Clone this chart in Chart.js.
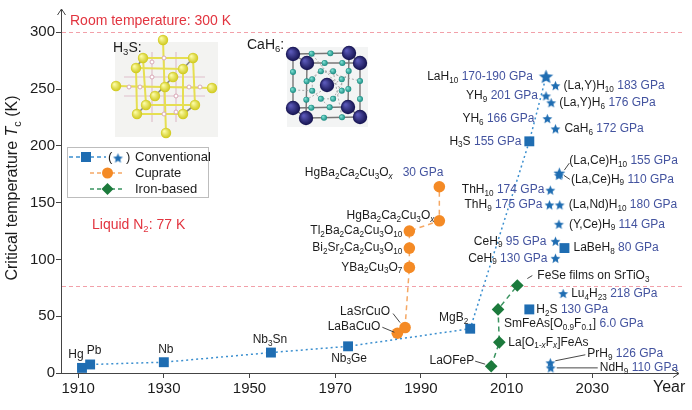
<!DOCTYPE html>
<html>
<head>
<meta charset="utf-8">
<script src="https://cdn.jsdelivr.net/npm/chart.js@4.4.1/dist/chart.umd.min.js"></script>
<style>
  html, body { margin: 0; padding: 0; background: #fff; }
</style>
</head>
<body>
<canvas id="c" width="692" height="410"></canvas>
<script>
// ---- data ----
const xTicks = [1910, 1930, 1950, 1970, 1990, 2010, 2030];
const yTicks = [0, 50, 100, 150, 200, 250, 300];
const refTemps = [300, 77];
const refTexts = ['Room temperature: 300 K', 'Liquid N_{2}: 77 K'];

// conventional (dotted line, squares, LaH10 as star)
const convNames = ['Hg', 'Pb', 'Nb', 'Nb_{3}Sn', 'Nb_{3}Ge', 'MgB_{2}', 'H_{3}S', 'LaH_{10}'];
const convPress = ['', '', '', '', '', '', '155 GPa', '170-190 GPa'];
const convYears = [1910.9, 1912.8, 1930, 1955, 1973, 2001.5, 2015.3, 2019.2];
const convTc    = [4.5, 7.5, 9.5, 18, 23.5, 39, 204, 261];

// hydrides under pressure (stars)
const hydNames = ['(La,Y)H_{10}', 'YH_{9}', '(La,Y)H_{6}', 'YH_{6}', 'CaH_{6}', '(La,Ce)H_{10}', '(La,Ce)H_{9}',
                  'ThH_{10}', 'ThH_{9}', '(La,Nd)H_{10}', '(Y,Ce)H_{9}', 'CeH_{9}', 'CeH_{9}', 'Lu_{4}H_{23}', 'PrH_{9}', 'NdH_{9}'];
const hydPress = ['183 GPa', '201 GPa', '176 GPa', '166 GPa', '172 GPa', '155 GPa', '110 GPa',
                  '174 GPa', '175 GPa', '180 GPa', '114 GPa', '95 GPa', '130 GPa', '218 GPa', '126 GPa', '110 GPa'];
const hydYears = [2021.4, 2019.2, 2020.4, 2019.5, 2021.4, 2022.3, 2022.2,
                  2020.2, 2020, 2022.4, 2022.2, 2021.4, 2021.4, 2023.2, 2020.2, 2020.3];
const hydTc    = [253, 244, 238, 224, 215, 176, 174, 161, 148, 148, 131, 116, 101, 70, 9, 4.5];

// other conventional squares
const sqNames = ['H_{2}S', 'LaBeH_{8}'];
const sqPress = ['130 GPa', '80 GPa'];
const sqYears = [2015.3, 2023.5];
const sqTc    = [56, 110];

// cuprates
const cupNames = ['LaBaCuO', 'LaSrCuO', 'YBa_{2}Cu_{3}O_{7}', 'Bi_{2}Sr_{2}Ca_{2}Cu_{3}O_{10}', 'Tl_{2}Ba_{2}Ca_{2}Cu_{3}O_{10}',
                  'HgBa_{2}Ca_{2}Cu_{3}O_{*x*}', 'HgBa_{2}Ca_{2}Cu_{3}O_{*x*}'];
const cupPress = ['', '', '', '', '', '', '30 GPa'];
const cupYears = [1984.5, 1986.3, 1987.3, 1987.3, 1987.3, 1994.3, 1994.3];
const cupTc    = [35, 40, 93, 110, 125, 134, 164];

// iron-based
const feNames = ['LaOFeP', 'La[O_{1-*x*}F_{*x*}]FeAs', 'SmFeAs[O_{0.9}F_{0.1}]', 'FeSe films on SrTiO_{3}'];
const fePress = ['', '', '6.0 GPa', ''];
const feYears = [2006.4, 2008.3, 2008, 2012.5];
const feTc    = [6, 27, 56, 77];

// ---- label layout: [dx, dy, align, leader(x1,y1,x2,y2), gap] relative to point ----
const convLbl = [[-6,-13,'center'],[4,-14,'center'],[2,-13,'center'],[-1,-13,'center'],[1,12,'center'],
                 [-2,-11,'right'],[-8,0,'right'],[-13,0,'right']];
const hydLbl = [[8,0,'left'],[-8,0,'right'],[8,0,'left'],[-13,0,'right'],[9,0,'left'],
                [10,-12,'left',[5,-3,10,-10]],[12,4,'left',[5,0,11,4]],
                [-6,0,'right'],[-7,0,'right'],[9,0,'left'],[10,0,'left'],[-9,0,'right'],[-8,0,'right'],
                [8,0,'left'],[37,-9,'left',[5,-2,35,-8]],[49,0,'left',[6,0,47,0]]];
const sqLbl = [[7,0,'left'],[9,0,'left']];
const cupLbl = [[-17,-7,'right',[-15,-6,-3,-1]],[-15,-16,'right',[-12,-14,-5,-5]],
                [-7,0,'right'],[-7,0,'right'],[-7,0,'right'],[-5,-5,'right'],[4,-14,'right',null,'   ']];
const feLbl = [[-17,-5,'right',[-16,-5,-6,-2]],[9,0,'left'],[6,14,'left'],[20,-10,'left',[10,-7,15,-10]]];

// ---- style ----
const FONT = '"Liberation Sans", Arial, Helvetica, sans-serif';
const BLUE = '#1f6db2';
const BLUE_LINE = '#3b8fcf';
const ORANGE = '#f48a25';
const GREEN = '#1c7a3c';
const PRESS = '#43539f';
const RED = '#e2343f';
const PINK = '#f2a0a9';
const TXT = '#1c1c1c';

function makeStar(R, color) {
  const s = Math.ceil(R * 2 + 2);
  const c = document.createElement('canvas');
  c.width = s; c.height = s;
  const g = c.getContext('2d');
  g.fillStyle = color;
  g.beginPath();
  for (let k = 0; k < 10; k++) {
    const r = k % 2 ? R * 0.45 : R;
    const a = -Math.PI / 2 + k * Math.PI / 5;
    g.lineTo(s / 2 + r * Math.cos(a), s / 2 + 0.5 + r * Math.sin(a));
  }
  g.closePath(); g.fill();
  return c;
}
const starBig = makeStar(7.5, BLUE);
const starMid = makeStar(6.2, BLUE);
const starSm = makeStar(5.2, BLUE);

// rich text: _{..} subscript, *..* italic, #..# pressure colour
function parseRich(str) {
  const segs = []; let sub = false, ital = false, blue = false, buf = '';
  const push = () => { if (buf) segs.push({ t: buf, sub, ital, blue }); buf = ''; };
  for (let i = 0; i < str.length; i++) {
    const c = str[i];
    if (c === '_' && str[i + 1] === '{') { push(); sub = true; i++; continue; }
    if (c === '}' && sub) { push(); sub = false; continue; }
    if (c === '*') { push(); ital = !ital; continue; }
    if (c === '#') { push(); blue = !blue; continue; }
    buf += c;
  }
  push();
  return segs;
}
function segFont(s, size) {
  return (s.ital ? 'italic ' : '') + (s.sub ? (size * 0.68).toFixed(1) : size) + 'px ' + FONT;
}
function drawRich(ctx, str, x, y, align, size, color) {
  const segs = parseRich(str);
  let w = 0;
  segs.forEach(s => { ctx.font = segFont(s, size); w += ctx.measureText(s.t).width; });
  let cx = align === 'right' ? x - w : align === 'center' ? x - w / 2 : x;
  ctx.textBaseline = 'middle'; ctx.textAlign = 'left';
  segs.forEach(s => {
    ctx.font = segFont(s, size);
    ctx.fillStyle = s.blue ? PRESS : color;
    ctx.fillText(s.t, cx, y + (s.sub ? size * 0.32 : 0));
    cx += ctx.measureText(s.t).width;
  });
}

function pts(xs, ys) { return xs.map((x, i) => ({ x, y: ys[i] })); }

const groups = [
  { ds: 0, names: convNames, press: convPress, lbl: convLbl },
  { ds: 1, names: hydNames, press: hydPress, lbl: hydLbl },
  { ds: 2, names: sqNames, press: sqPress, lbl: sqLbl },
  { ds: 3, names: cupNames, press: cupPress, lbl: cupLbl },
  { ds: 4, names: feNames, press: fePress, lbl: feLbl }
];

function sphere(ctx, x, y, r, c1, c2) {
  const g = ctx.createRadialGradient(x - r * 0.35, y - r * 0.35, r * 0.1, x, y, r);
  g.addColorStop(0, c1); g.addColorStop(1, c2);
  ctx.fillStyle = g;
  ctx.beginPath(); ctx.arc(x, y, r, 0, Math.PI * 2); ctx.fill();
}
function line(ctx, a, b) { ctx.beginPath(); ctx.moveTo(a[0], a[1]); ctx.lineTo(b[0], b[1]); ctx.stroke(); }

function drawH3S(ctx) {
  ctx.fillStyle = '#f3f3f1'; ctx.fillRect(115, 42, 103, 95);
  const S = {
    t: [163, 40], b2: [143, 58], b3: [193, 58], f4: [136, 68], f5: [183, 69], i6: [173, 77],
    l: [116, 86], c: [165, 87], r: [212, 88], i10: [155, 96], b11: [146, 105], b12: [195, 105],
    f13: [137, 114], f14: [183, 114], bt: [166, 133]
  };
  ctx.strokeStyle = '#dfc0cb'; ctx.lineWidth = 1.2;
  [[124, 77, 205, 77], [124, 96, 205, 96], [128, 87, 200, 87]].forEach(a => line(ctx, [a[0], a[1]], [a[2], a[3]]));
  [[152, 52, 152, 122], [176, 52, 176, 122], [164, 58, 164, 114]].forEach(a => line(ctx, [a[0], a[1]], [a[2], a[3]]));
  ctx.strokeStyle = '#e6df52'; ctx.lineWidth = 2;
  line(ctx, S.t, S.bt); line(ctx, S.l, S.r);
  [[S.b2, S.b3], [S.b3, S.b12], [S.b12, S.b11], [S.b11, S.b2], [S.f4, S.f5], [S.f5, S.f14], [S.f14, S.f13], [S.f13, S.f4]]
    .forEach(p => line(ctx, p[0], p[1]));
  ctx.strokeStyle = '#8a8a80'; ctx.lineWidth = 1.6;
  [[S.b2, S.f4], [S.b3, S.f5], [S.b11, S.f13], [S.b12, S.f14], [S.i6, S.i10]].forEach(p => line(ctx, p[0], p[1]));
  ctx.strokeStyle = '#d9a9b8'; ctx.lineWidth = 1; ctx.fillStyle = '#fff';
  [[152, 77], [176, 77], [152, 96], [176, 96], [129, 87], [200, 87], [164, 58], [164, 114], [140, 87], [189, 87], [152, 62], [176, 112]]
    .forEach(p => { ctx.beginPath(); ctx.arc(p[0], p[1], 2, 0, Math.PI * 2); ctx.fill(); ctx.stroke(); });
  Object.values(S).forEach(p => sphere(ctx, p[0], p[1], 5.2, '#fbfba4', '#cfc81a'));
  drawRich(ctx, 'H_{3}S:', 113, 48, 'left', 14, TXT);
}

function drawCaH6(ctx) {
  ctx.fillStyle = '#f3f4f4'; ctx.fillRect(287, 47, 81, 80);
  const F = [[293, 54], [349, 53], [348, 107], [293, 108]];
  const B = [[307, 63], [360, 63], [360, 117], [306, 118]];
  const C = [327, 85];
  ctx.strokeStyle = '#777'; ctx.lineWidth = 1.4;
  for (let k = 0; k < 4; k++) { line(ctx, F[k], F[(k + 1) % 4]); line(ctx, B[k], B[(k + 1) % 4]); line(ctx, F[k], B[k]); }
  const teal = [];
  for (let k = 0; k < 8; k++) {
    const a = k * Math.PI / 4 + Math.PI / 8;
    teal.push([C[0] + 16 * Math.cos(a), C[1] + 15 * Math.sin(a)]);
  }
  [F, B].forEach(Q => {
    for (let k = 0; k < 4; k++) {
      const p = Q[k], q = Q[(k + 1) % 4];
      teal.push([p[0] + (q[0] - p[0]) / 3, p[1] + (q[1] - p[1]) / 3]);
      teal.push([p[0] + 2 * (q[0] - p[0]) / 3, p[1] + 2 * (q[1] - p[1]) / 3]);
    }
  });
  ctx.strokeStyle = '#999'; ctx.lineWidth = 0.8; ctx.setLineDash([2, 2]);
  teal.slice(0, 8).forEach((p, k) => line(ctx, p, teal[(k + 1) % 8]));
  teal.slice(0, 8).forEach((p, k) => line(ctx, p, teal[8 + (k * 2) % 16]));
  ctx.setLineDash([]);
  teal.forEach(p => sphere(ctx, p[0], p[1], 3, '#7fe0d4', '#168a80'));
  F.concat(B, [C]).forEach(p => sphere(ctx, p[0], p[1], 7.2, '#5a58b8', '#14124e'));
  drawRich(ctx, 'CaH_{6}:', 247, 45, 'left', 14, TXT);
}

const decorPlugin = {
  id: 'decor',
  beforeDatasetsDraw(chart) {
    const ctx = chart.ctx, x = chart.scales.x, y = chart.scales.y;
    ctx.save();
    ctx.strokeStyle = PINK; ctx.lineWidth = 1; ctx.setLineDash([4, 3]);
    refTemps.forEach(t => {
      const py = Math.round(y.getPixelForValue(t)) + 0.5;
      ctx.beginPath(); ctx.moveTo(x.left + 1, py); ctx.lineTo(x.right + 6, py); ctx.stroke();
    });
    ctx.setLineDash([]);
    drawRich(ctx, refTexts[0], 70, 21, 'left', 14, RED);
    drawRich(ctx, refTexts[1], 92, 225, 'left', 14, RED);
    drawH3S(ctx);
    drawCaH6(ctx);
    ctx.restore();
  },
  afterDatasetsDraw(chart) {
    const ctx = chart.ctx;
    ctx.save();
    groups.forEach(g => {
      const meta = chart.getDatasetMeta(g.ds);
      g.names.forEach((n, i) => {
        const el = meta.data[i], L = g.lbl[i];
        let txt = n;
        if (g.press[i]) txt += (L[4] || ' ') + '#' + g.press[i] + '#';
        drawRich(ctx, txt, el.x + L[0], el.y + L[1], L[2], 12, TXT);
        if (L[3]) {
          ctx.strokeStyle = '#333'; ctx.lineWidth = 0.9;
          line(ctx, [el.x + L[3][0], el.y + L[3][1]], [el.x + L[3][2], el.y + L[3][3]]);
        }
      });
    });
    ctx.restore();
  },
  afterDraw(chart) {
    const ctx = chart.ctx, a = chart.chartArea;
    ctx.save();
    // axis arrows
    ctx.strokeStyle = '#444'; ctx.lineWidth = 1;
    ctx.beginPath(); ctx.moveTo(a.left + 0.5, a.top); ctx.lineTo(a.left + 0.5, a.top - 4); ctx.stroke();
    ctx.beginPath(); ctx.moveTo(a.left - 3.5, a.top + 2); ctx.lineTo(a.left + 0.5, a.top - 4); ctx.lineTo(a.left + 4.5, a.top + 2); ctx.stroke();
    const by = a.bottom + 0.5;
    ctx.beginPath(); ctx.moveTo(a.right, by); ctx.lineTo(a.right + 1, by); ctx.stroke();
    ctx.beginPath(); ctx.moveTo(a.right - 5, by - 4); ctx.lineTo(a.right + 1, by); ctx.lineTo(a.right - 5, by + 4); ctx.stroke();
    drawRich(ctx, 'Year', 653, 388, 'left', 16, TXT);
    // y title
    ctx.save();
    ctx.translate(13, 188); ctx.rotate(-Math.PI / 2);
    drawRich(ctx, 'Critical temperature *T*_{c} (K)', 0, 0, 'center', 16, TXT);
    ctx.restore();
    // legend
    ctx.strokeStyle = '#bdbdbd'; ctx.lineWidth = 1;
    ctx.strokeRect(67.5, 147.5, 141, 50);
    ctx.lineWidth = 1.4; ctx.setLineDash([4, 3]);
    ctx.strokeStyle = BLUE_LINE; line(ctx, [69, 157], [106, 157]);
    ctx.strokeStyle = '#f5a865'; line(ctx, [90, 173], [125, 173]);
    ctx.strokeStyle = '#3a9460'; line(ctx, [90, 189], [125, 189]);
    ctx.setLineDash([]);
    ctx.fillStyle = BLUE; ctx.fillRect(81, 152, 10, 10);
    ctx.drawImage(starSm, 118 - starSm.width / 2, 158 - starSm.height / 2);
    drawRich(ctx, '(', 108, 157, 'left', 13, TXT);
    drawRich(ctx, ')', 126, 157, 'left', 13, TXT);
    ctx.fillStyle = ORANGE; ctx.beginPath(); ctx.arc(107.5, 173, 5.5, 0, Math.PI * 2); ctx.fill();
    ctx.fillStyle = GREEN; ctx.beginPath();
    ctx.moveTo(107.5, 183); ctx.lineTo(113.5, 189); ctx.lineTo(107.5, 195); ctx.lineTo(101.5, 189); ctx.closePath(); ctx.fill();
    drawRich(ctx, 'Conventional', 135, 157, 'left', 13, TXT);
    drawRich(ctx, 'Cuprate', 135, 173, 'left', 13, TXT);
    drawRich(ctx, 'Iron-based', 135, 189, 'left', 13, TXT);
    ctx.restore();
  }
};

new Chart(document.getElementById('c'), {
  type: 'scatter',
  data: {
    datasets: [
      {
        label: 'Conventional',
        data: pts(convYears, convTc),
        showLine: true,
        borderColor: BLUE_LINE, borderWidth: 1.5, borderDash: [2, 3],
        backgroundColor: BLUE,
        pointBackgroundColor: BLUE, pointBorderWidth: 0,
        pointStyle: c => c.dataIndex === convYears.length - 1 ? starBig : 'rect',
        pointRadius: 7
      },
      {
        label: 'Hydrides',
        data: pts(hydYears, hydTc),
        showLine: false,
        pointStyle: c => c.dataIndex === 5 ? starMid : starSm,
        pointRadius: 5
      },
      {
        label: 'Other',
        data: pts(sqYears, sqTc),
        showLine: false,
        pointBackgroundColor: BLUE, pointBorderWidth: 0,
        pointStyle: 'rect', pointRadius: 7
      },
      {
        label: 'Cuprate',
        data: pts(cupYears, cupTc),
        showLine: true,
        borderColor: '#f5a865', borderWidth: 1.5, borderDash: [5, 4],
        pointBackgroundColor: ORANGE, pointBorderWidth: 0,
        pointStyle: 'circle', pointRadius: 5.8
      },
      {
        label: 'Iron-based',
        data: pts(feYears, feTc),
        showLine: true,
        borderColor: '#3a9460', borderWidth: 1.5, borderDash: [5, 4],
        pointBackgroundColor: GREEN, pointBorderWidth: 0,
        pointStyle: 'rectRot', pointRadius: 6.3
      }
    ]
  },
  options: {
    responsive: false,
    animation: false,
    events: [],
    layout: { padding: { left: 0, top: 13, right: 14, bottom: 0 }, autoPadding: false },
    plugins: { legend: { display: false }, tooltip: { enabled: false } },
    scales: {
      x: {
        type: 'linear', min: 1906, max: 2050,
        afterFit: s => { s.height = 37; },
        afterBuildTicks: s => { s.ticks = xTicks.map(v => ({ value: v })); },
        grid: { drawOnChartArea: false, drawTicks: true, tickLength: 5, color: '#444' },
        border: { color: '#444', width: 1 },
        ticks: { callback: v => String(v), font: { family: FONT, size: 15 }, color: TXT, padding: 2, maxRotation: 0 }
      },
      y: {
        type: 'linear', min: 0, max: 317,
        afterFit: s => { s.width = 61; },
        afterBuildTicks: s => { s.ticks = yTicks.map(v => ({ value: v })); },
        grid: { drawOnChartArea: false, drawTicks: true, tickLength: 5, color: '#444' },
        border: { color: '#444', width: 1 },
        ticks: { font: { family: FONT, size: 15 }, color: TXT, padding: 1 }
      }
    }
  },
  plugins: [decorPlugin]
});
</script>
</body>
</html>
